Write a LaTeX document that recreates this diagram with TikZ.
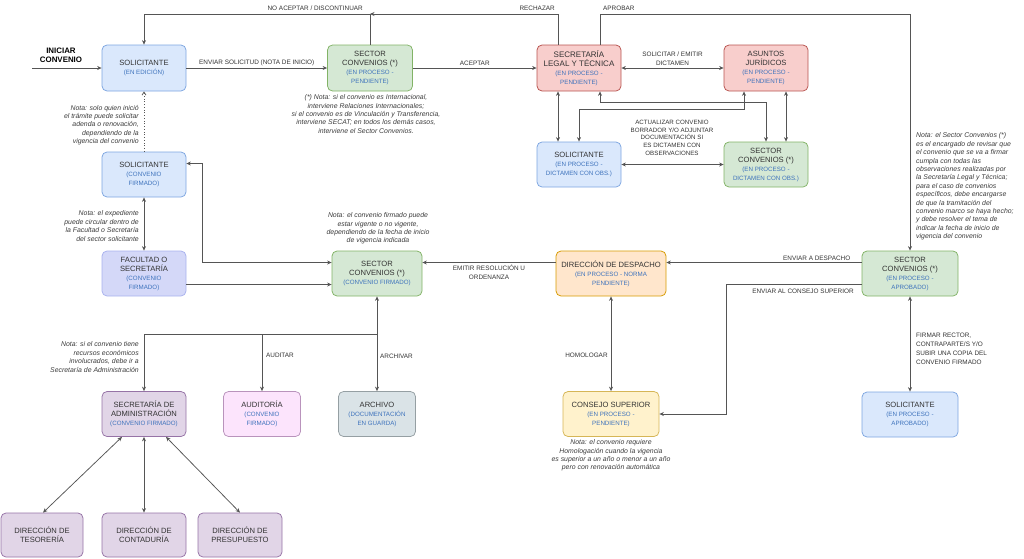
\documentclass[tikz,border=0pt]{standalone}
\usepackage{fontspec}
\setmainfont{Liberation Sans}
\usetikzlibrary{arrows.meta,calc}
\definecolor{bluef}{HTML}{DAE8FC}\definecolor{blued}{HTML}{7EA6E0}
\definecolor{greenf}{HTML}{D5E8D4}\definecolor{greend}{HTML}{82B366}
\definecolor{redf}{HTML}{F8CECC}\definecolor{redd}{HTML}{B85450}
\definecolor{purf}{HTML}{E1D5E7}\definecolor{purd}{HTML}{9673A6}
\definecolor{lavf}{HTML}{D4D8F8}\definecolor{lavd}{HTML}{A9B2EE}
\definecolor{pinkf}{HTML}{FCE4FC}\definecolor{pinkd}{HTML}{B993BC}
\definecolor{grayf}{HTML}{DAE3E7}\definecolor{grayd}{HTML}{959FA3}
\definecolor{orf}{HTML}{FFE6CC}\definecolor{ord}{HTML}{D79B00}
\definecolor{yelf}{HTML}{FFF2CC}\definecolor{yeld}{HTML}{D6B656}
\definecolor{subc}{HTML}{3D72BC}
\definecolor{maintext}{HTML}{333333}
\definecolor{notetext}{HTML}{3C3C3C}
\definecolor{linec}{HTML}{555555}
\newcommand{\subt}[1]{{\color{subc}\fontsize{6.2}{9}\selectfont #1}}
\tikzset{
 box/.style={rounded corners=5pt, line width=0.75pt, align=center, inner sep=0pt, text=maintext, font=\fontsize{7.6}{9}\selectfont},
 bluebox/.style={box, fill=bluef, draw=blued},
 greenbox/.style={box, fill=greenf, draw=greend},
 redbox/.style={box, fill=redf, draw=redd},
 purbox/.style={box, fill=purf, draw=purd},
 lavbox/.style={box, fill=lavf, draw=lavd},
 pinkbox/.style={box, fill=pinkf, draw=pinkd},
 graybox/.style={box, fill=grayf, draw=grayd},
 orbox/.style={box, fill=orf, draw=ord},
 yelbox/.style={box, fill=yelf, draw=yeld},
 conn/.style={draw=linec, line width=0.75pt},
 arr/.style={conn, -{Stealth[length=4.5pt,width=4pt]}},
 darr/.style={conn, {Stealth[length=4.5pt,width=4pt]}-{Stealth[length=4.5pt,width=4pt]}},
 lbl/.style={font=\fontsize{6.4}{9}\selectfont, text=maintext, align=center, inner sep=1pt},
 note/.style={font=\itshape\fontsize{6.9}{8.4}\selectfont, text=notetext, inner sep=0pt},
}
\begin{document}
\begin{tikzpicture}[x=1pt,y=-1pt]
\useasboundingbox (0,0) rectangle (1024,558);
% nodes
\node[bluebox, minimum width=84pt, minimum height=46pt] (sol1) at (144,68) {SOLICITANTE\\\subt{(EN EDICIÓN)}};
\node[greenbox, minimum width=85pt, minimum height=46pt] (sc1) at (370,68) {SECTOR\\CONVENIOS (*)\\\subt{(EN PROCESO -}\\\subt{PENDIENTE)}};
\node[redbox, minimum width=84pt, minimum height=46pt, font=\fontsize{8}{9}\selectfont] (slt) at (579,68) {SECRETARÍA\\LEGAL Y TÉCNICA\\\subt{(EN PROCESO -}\\\subt{PENDIENTE)}};
\node[redbox, minimum width=84pt, minimum height=46pt] (aj) at (766,68) {ASUNTOS\\JURÍDICOS\\\subt{(EN PROCESO -}\\\subt{PENDIENTE)}};
\node[bluebox, minimum width=84pt, minimum height=45pt] (sol2) at (579,164.5) {SOLICITANTE\\\subt{(EN PROCESO -}\\\subt{DICTAMEN CON OBS.)}};
\node[greenbox, minimum width=84pt, minimum height=45pt] (sc2) at (766,164.5) {SECTOR\\CONVENIOS (*)\\\subt{(EN PROCESO -}\\\subt{DICTAMEN CON OBS.)}};
\node[bluebox, minimum width=84pt, minimum height=45pt] (sol3) at (144,174.5) {SOLICITANTE\\\subt{(CONVENIO}\\\subt{FIRMADO)}};
\node[lavbox, minimum width=84pt, minimum height=45pt] (fac) at (144,273.5) {FACULTAD O\\SECRETARÍA\\\subt{(CONVENIO}\\\subt{FIRMADO)}};
\node[greenbox, minimum width=90pt, minimum height=45pt] (sc3) at (377,273.5) {SECTOR\\CONVENIOS (*)\\\subt{(CONVENIO FIRMADO)}};
\node[orbox, minimum width=110pt, minimum height=45pt] (dd) at (611,273.5) {DIRECCIÓN DE DESPACHO\\\subt{(EN PROCESO - NORMA}\\\subt{PENDIENTE)}};
\node[greenbox, minimum width=96pt, minimum height=45pt] (sc4) at (910,273.5) {SECTOR\\CONVENIOS (*)\\\subt{(EN PROCESO -}\\\subt{APROBADO)}};
\node[purbox, minimum width=84pt, minimum height=45pt] (adm) at (144,414) {SECRETARÍA DE\\ADMINISTRACIÓN\\\subt{(CONVENIO FIRMADO)}};
\node[pinkbox, minimum width=77pt, minimum height=45pt] (aud) at (262,414) {AUDITORÍA\\\subt{(CONVENIO}\\\subt{FIRMADO)}};
\node[graybox, minimum width=77pt, minimum height=45pt] (arc) at (377,414) {ARCHIVO\\\subt{(DOCUMENTACIÓN}\\\subt{EN GUARDA)}};
\node[yelbox, minimum width=96pt, minimum height=45pt] (cs) at (611,414) {CONSEJO SUPERIOR\\\subt{(EN PROCESO -}\\\subt{PENDIENTE)}};
\node[bluebox, minimum width=96pt, minimum height=45pt] (sol4) at (910,414.5) {SOLICITANTE\\\subt{(EN PROCESO -}\\\subt{APROBADO)}};
\node[purbox, minimum width=82pt, minimum height=44pt] (tes) at (42,535) {DIRECCIÓN DE\\TESORERÍA};
\node[purbox, minimum width=84pt, minimum height=44pt] (con) at (144,535) {DIRECCIÓN DE\\CONTADURÍA};
\node[purbox, minimum width=84pt, minimum height=44pt] (pre) at (240,535) {DIRECCIÓN DE\\PRESUPUESTO};
% coordinates
\coordinate (ini) at (32,68);
\coordinate (j1) at (370,14);
\coordinate (jb) at (377,334);
% top connectors
\node[font=\bfseries\fontsize{7.9}{9.5}\selectfont, text=black, align=center] (inilbl) at (61,55.5) {INICIAR\\CONVENIO};
\draw[arr] (ini) -- (sol1.west);
\draw[arr] (sol1) -- node[lbl, above=1pt]{ENVIAR SOLICITUD (NOTA DE INICIO)} (sc1);
\draw[arr] (sc1) -- node[lbl, above=1pt]{ACEPTAR} (slt);
\draw[arr] (sc1.north) -- (j1) -| (sol1.north);
\node[lbl, anchor=east] at (364,8) {NO ACEPTAR / DISCONTINUAR};
\draw[arr] ([xshift=-21]slt.north) |- (j1);
\node[lbl, anchor=east] at (556,8) {RECHAZAR};
\draw[arr] ([xshift=21]slt.north) |- (sc4.north |- j1) -- (sc4.north);
\node[lbl, anchor=west] at (602,8) {APROBAR};
% legal / juridicos cluster
\draw[darr] (slt) -- node[lbl, above=1pt]{SOLICITAR / EMITIR\\DICTAMEN} (aj);
\draw[darr] ([xshift=-21]slt.south) -- ([xshift=-21]sol2.north);
\draw[darr] (sol2.north) -- ++(0,-32) -| ([xshift=-22]aj.south);
\draw[darr] ([xshift=21]slt.south) -- ++(0,11) -| (sc2.north);
\draw[darr] ([xshift=20]aj.south) -- ([xshift=20]sc2.north);
\draw[darr] (sol2) -- (sc2);
\node[lbl, anchor=south, font=\fontsize{6.2}{7.9}\selectfont] at (672,157) {ACTUALIZAR CONVENIO\\BORRADOR Y/O ADJUNTAR\\DOCUMENTACIÓN SI\\ES DICTAMEN CON\\OBSERVACIONES};
% left column
\draw[conn, dotted, line width=0.8pt, -{Straight Barb[length=3pt,width=4pt]}] (sol3.north) -- (sol1.south);
\draw[darr] (sol3) -- (fac);
\draw[darr] ([yshift=11]sol3.east) -- ++(16,0) |- ([yshift=11]sc3.west);
\draw[arr] ([yshift=-11]fac.east) -- ([yshift=-11]sc3.west);
% middle row
\draw[arr] ([yshift=11]dd.west) -- node[lbl, below=1pt]{EMITIR RESOLUCIÓN U\\ORDENANZA} ([yshift=11]sc3.east);
\draw[arr] ([yshift=11]sc4.west) -- node[lbl, above=1pt, pos=0.23]{ENVIAR A DESPACHO} ([yshift=11]dd.east);
\draw[arr] ([yshift=-11]sc4.west) -- ++(-135,0) |- (cs.east);
\node[lbl, anchor=north] at (803,287.5) {ENVIAR AL CONSEJO SUPERIOR};
\draw[darr] (dd) -- node[lbl, left=2pt, pos=0.62]{HOMOLOGAR} (cs);
\draw[darr] (sc4) -- (sol4);
\node[lbl, anchor=west, align=left] at (915,349) {FIRMAR RECTOR,\\CONTRAPARTE/S Y/O\\SUBIR UNA COPIA DEL\\CONVENIO FIRMADO};
% bottom
\draw[darr] (sc3.south) -- (arc.north);
\draw[arr] (jb) -| (adm.north);
\draw[arr] (aud.north |- jb) -- (aud.north);
\node[lbl, anchor=west] at (265,355) {AUDITAR};
\node[lbl, anchor=west] at (379,356) {ARCHIVAR};
\draw[darr] ([xshift=-22]adm.south) -- ([xshift=1]tes.north);
\draw[darr] (adm.south) -- (con.north);
\draw[darr] ([xshift=22]adm.south) -- (pre.north);
% notes
\node[note, align=center] at (366,114) {(*) Nota: si el convenio es Internacional,\\interviene Relaciones Internacionales;\\si el convenio es de Vinculación y Transferencia,\\interviene SECAT; en todos los demás casos,\\interviene el Sector Convenios.};
\node[note, align=right, anchor=east] at (139,125) {Nota: solo quien inició\\el trámite puede solicitar\\adenda o renovación,\\dependiendo de la\\vigencia del convenio};
\node[note, align=right, anchor=east] at (139,226) {Nota: el expediente\\puede circular dentro de\\la Facultad o Secretaría\\del sector solicitante};
\node[note, align=right, anchor=east] at (139,357) {Nota: si el convenio tiene\\recursos económicos\\involucrados, debe ir a\\Secretaría de Administración};
\node[note, align=center] at (378,228.5) {Nota: el convenio firmado puede\\estar vigente o no vigente,\\dependiendo de la fecha de inicio\\de vigencia indicada};
\node[note, align=left, anchor=west] at (916,186.5) {Nota: el Sector Convenios (*)\\es el encargado de revisar que\\el convenio que se va a firmar\\cumpla con todas las\\observaciones realizadas por\\la Secretaría Legal y Técnica;\\para el caso de convenios\\específicos, debe encargarse\\de que la tramitación del\\convenio marco se haya hecho;\\y debe resolver el tema de\\indicar la fecha de inicio de\\vigencia del convenio};
\node[note, align=center] at (611,455.5) {Nota: el convenio requiere\\Homologación cuando la vigencia\\es superior a un año o menor a un año\\pero con renovación automática};
\end{tikzpicture}
\end{document}
